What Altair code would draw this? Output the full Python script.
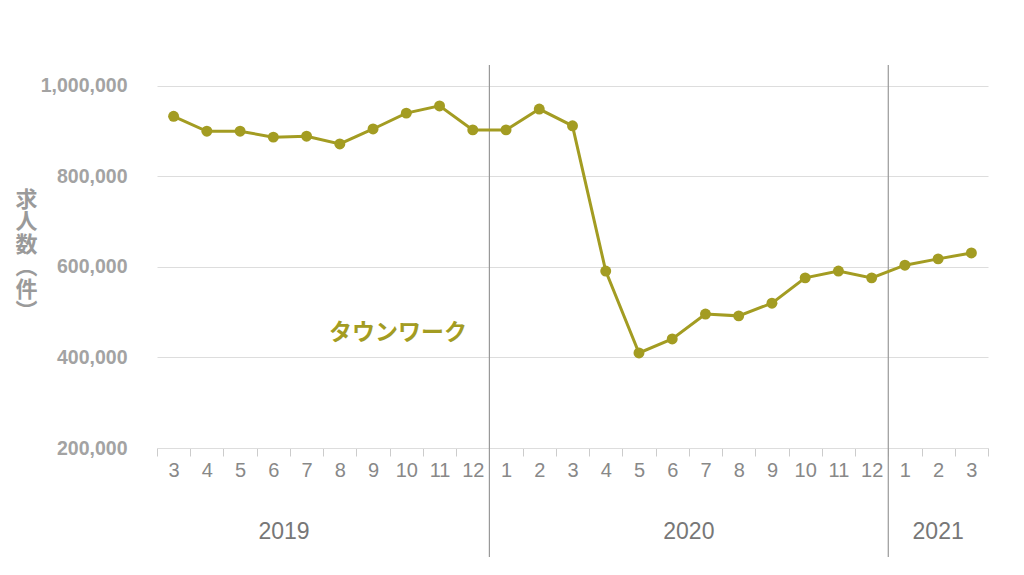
import altair as alt
import pandas as pd

# ---- data ----
months = ["3", "4", "5", "6", "7", "8", "9", "10", "11", "12",
          "1", "2", "3", "4", "5", "6", "7", "8", "9", "10", "11", "12",
          "1", "2", "3"]
years = ["2019"] * 10 + ["2020"] * 12 + ["2021"] * 3
values = [933000, 900000, 900000, 887000, 889000, 872000, 905000, 940000, 956000, 903000,
          903000, 949000, 912000, 591000, 410000, 441000, 496000, 492000, 520000, 576000,
          591000, 576000, 604000, 618000, 631000]
series_name = "タウンワーク"
y_title = ["求", "人", "数", "︵", "件", "︶"]
y_ticks = [200000, 400000, 600000, 800000, 1000000]
separators = ["2020-1", "2021-1"]
year_labels = ["2019", "2020", "2021"]
year_anchor = ["2019-6", "2020-7", "2021-2"]

keys = [f"{y}-{m}" for y, m in zip(years, months)]
df = pd.DataFrame({"key": keys, "value": values})

OLIVE = "#a39c22"
NUM_FONT = "Liberation Sans"
JP_FONT = "Noto Sans CJK JP"

x_scale = alt.Scale(type="band", domain=keys, paddingInner=0, paddingOuter=0)
y_scale = alt.Scale(domain=[200000, 1046400], nice=False, zero=False)

x_axis = alt.Axis(title="", labelExpr="split(datum.value, '-')[1]", labelAngle=0,
                  labelFont=NUM_FONT, labelFontSize=20, labelColor="#888888",
                  labelPadding=4, tickBand="extent", tickColor="#cccccc",
                  tickSize=8, domainColor="#dddddd", grid=False)
y_axis = alt.Axis(title=y_title, values=y_ticks, format=",.0f", grid=True,
                  gridColor="#dddddd", domain=False, ticks=False,
                  labelFont=NUM_FONT, labelFontSize=19.5, labelFontWeight="bold",
                  labelColor="#a3a3a3", labelPadding=30,
                  titleAngle=0, titleX=-131, titleY=124, titleAlign="center",
                  titleBaseline="top", titleLineHeight=22.5, titleFont=JP_FONT,
                  titleFontSize=22, titleFontWeight="bold", titleColor="#9a9a9a")


def xe(bp):
    return alt.X("key:N", scale=x_scale, axis=x_axis, sort=keys, bandPosition=bp)


def ye():
    return alt.Y("value:Q", scale=y_scale, axis=y_axis)


line = alt.Chart(df).mark_line(color=OLIVE, strokeWidth=3).encode(x=xe(0.5), y=ye())
pts = alt.Chart(df).mark_point(filled=True, color=OLIVE, size=120, opacity=1).encode(
    x=xe(0.5), y=ye())

sep_df = pd.DataFrame({"key": separators})
seps = alt.Chart(sep_df).mark_rule(color="#999999", strokeWidth=1.2).encode(
    x=xe(0), y=alt.value(0), y2=alt.value(492))

lab_df = pd.DataFrame({"key": ["2019-10"], "value": [455000], "label": [series_name]})
lab = alt.Chart(lab_df).mark_text(color=OLIVE, font=JP_FONT, fontSize=23,
                                  fontWeight="bold", baseline="middle").encode(
    x=xe(0.25), y=ye(), text="label:N")

yr_df = pd.DataFrame({"key": year_anchor, "year": year_labels})
yr_layers = []
for yl, bp in zip(year_labels, [0.82, 0, 0.5]):
    yr_layers.append(
        alt.Chart(yr_df).transform_filter(alt.datum.year == yl).mark_text(
            font=NUM_FONT, fontSize=23, color="#777777", baseline="middle").encode(
            x=xe(bp), y=alt.value(467), text="year:N"))

chart = alt.layer(seps, line, pts, lab, *yr_layers).properties(
    width=831, height=383,
    background="white",
    autosize=alt.AutoSizeParams(type="none"),
    padding={"left": 149, "top": 57, "right": 20, "bottom": 110},
).configure_view(strokeWidth=0, stroke="transparent")

chart.save("out.html", embed_options={"renderer": "svg", "actions": False})
